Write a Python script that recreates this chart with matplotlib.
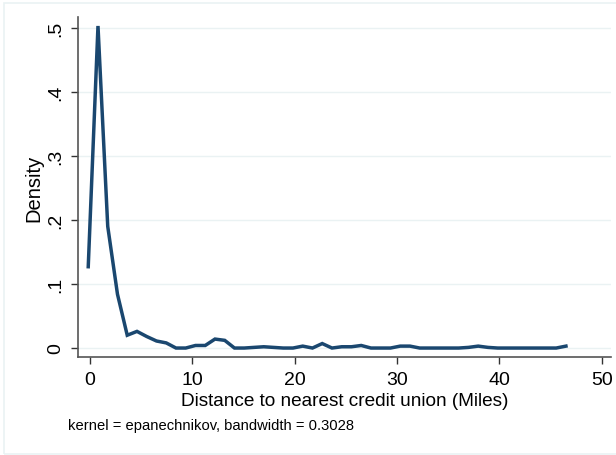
import numpy as np
import matplotlib.pyplot as plt
from matplotlib.patches import Rectangle

plt.rcParams['font.family'] = ['Liberation Sans', 'DejaVu Sans']

# kernel density estimate, 50 evaluation points (Stata default)
x_min, x_max = -0.17, 46.5
density = [0.127, 0.503, 0.190, 0.084, 0.020, 0.026, 0.018, 0.011, 0.008, 0.0,
           0.0, 0.004, 0.004, 0.014, 0.012, 0.0, 0.0, 0.001, 0.002, 0.001,
           0.0, 0.0, 0.003, 0.0, 0.007, 0.0, 0.002, 0.002, 0.004, 0.0,
           0.0, 0.0, 0.003, 0.003, 0.0, 0.0, 0.0, 0.0, 0.0, 0.001,
           0.003, 0.001, 0.0, 0.0, 0.0, 0.0, 0.0, 0.0, 0.0, 0.003]
x = np.linspace(x_min, x_max, len(density))

xticks = [0, 10, 20, 30, 40, 50]
yticks = [0, 0.1, 0.2, 0.3, 0.4, 0.5]
ylabels = ['0', '.1', '.2', '.3', '.4', '.5']

fig = plt.figure(figsize=(6.16, 4.56), dpi=100)
fig.patch.set_facecolor('white')
# light outer frame of the graph region
fig.patches.append(Rectangle((4 / 616, 1 / 456), 620 / 616, 451 / 456,
                             transform=fig.transFigure, fill=False,
                             edgecolor='#eaf2f3', lw=1.2))

ax = fig.add_axes([78 / 616, 1 - 358 / 456, 533 / 616, 340 / 456])
ax.plot(x, density, color='#1a476f', lw=2.5, solid_joinstyle='miter')

ax.set_xlim(-1.17, 50.9)
ax.set_ylim(-0.014, 0.517)
ax.set_xticks(xticks)
ax.set_yticks(yticks)
ax.set_yticklabels(ylabels, rotation=90, va='center')
for s in ['top', 'right']:
    ax.spines[s].set_visible(False)
for s in ['left', 'bottom']:
    ax.spines[s].set_color('#555555')
    ax.spines[s].set_linewidth(1.2)
ax.tick_params(axis='both', length=5, width=1, color='#333333', labelsize=14, pad=5)
ax.grid(axis='y', color='#eaf2f3', lw=1)
ax.set_axisbelow(True)

ax.set_xlabel('Distance to nearest credit union (Miles)', fontsize=13.7, labelpad=3)
ax.set_ylabel('Density', fontsize=14.5, labelpad=3)
fig.text(68 / 616, 1 - 426 / 456, 'kernel = epanechnikov, bandwidth = 0.3028',
         fontsize=10.6, va='center', ha='left')

fig.savefig('out.png', dpi=100)
